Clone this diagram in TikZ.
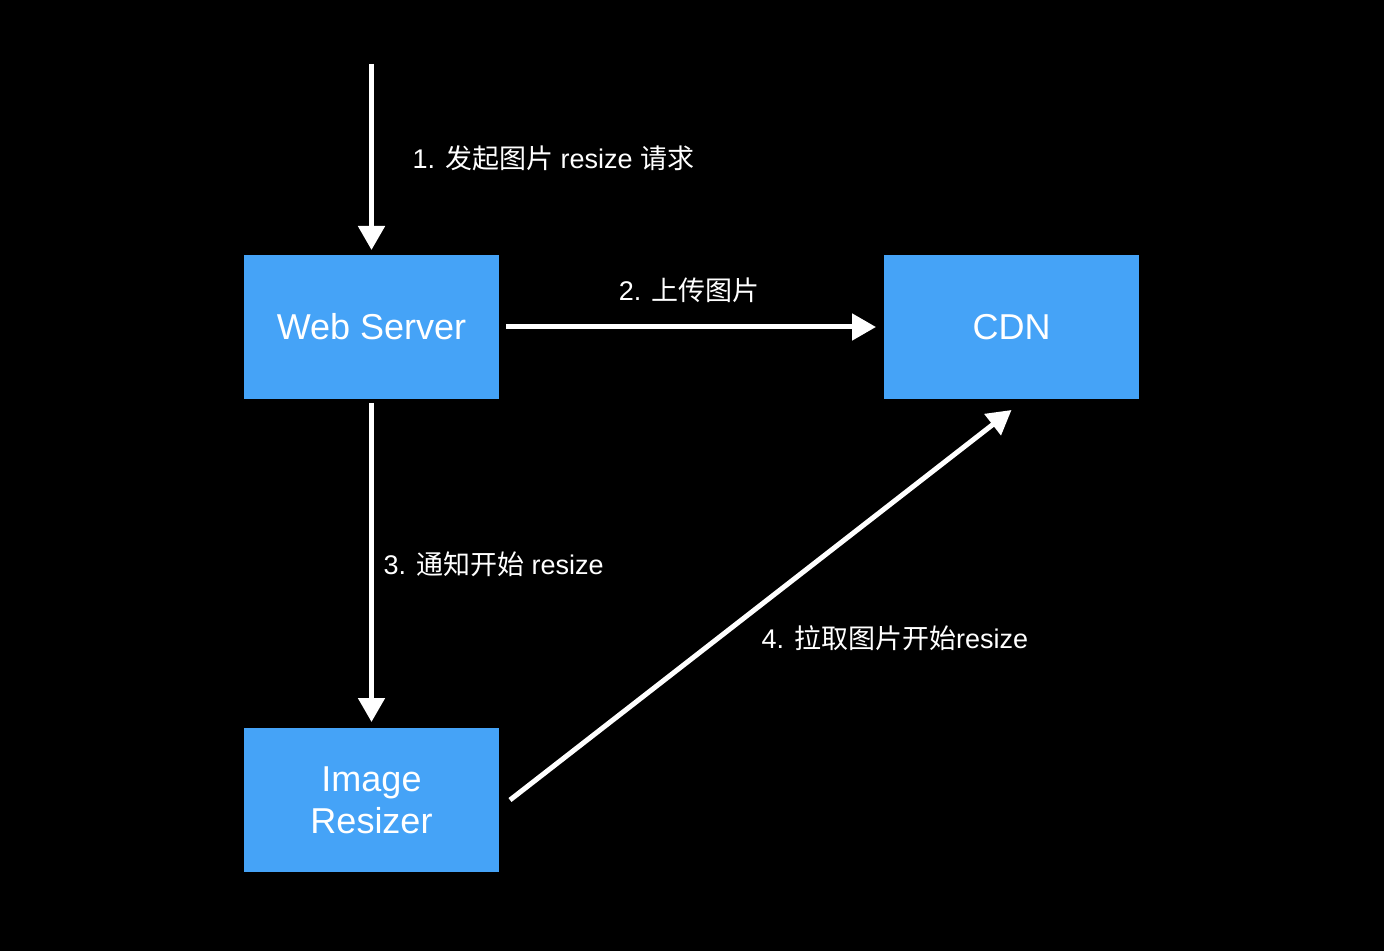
\documentclass[tikz,border=0pt]{standalone}
\usepackage{fontspec}
\setmainfont{Liberation Sans}
\newfontfamily\cjk{Noto Sans CJK SC}
\usetikzlibrary{arrows.meta, positioning}
\definecolor{boxblue}{HTML}{45A3F7}

\begin{document}
\begin{tikzpicture}[
            x = 0.5pt, y = -0.5pt, % one unit per pixel of the sketch
            > = {Triangle[length=12pt, width=13pt]}, % arrow head style
            line width = 2.5pt
        ]

        \tikzset{
            server/.style = {
                fill = boxblue,
                text = white,
                outer sep = 0pt,
                minimum width = 127.5pt,
                minimum height = 72pt,
                align = center,
                font = \fontsize{18}{21}\selectfont
            },
            flow/.style = {->, draw = white},
            note/.style = {text = white, inner sep = 0pt, font = \fontsize{13.5}{16}\selectfont}
        }

        \fill[black] (0,0) rectangle (1384,951);
        \useasboundingbox (0,0) rectangle (1384,951);

        \node[server] (ws) at (371.5,327) {Web Server};
        \node[server] (cdn) [right=192.5pt of ws] {CDN};
        \node[server] (ir) [below=164.5pt of ws] {Image\\Resizer};
        \coordinate (client) at (371.5,64);

        \draw[flow, shorten > = 2.5pt] (client) -- (ws.north);
        \draw[flow, shorten < = 3.5pt, shorten > = 4pt] (ws.east) -- (cdn.west);
        \draw[flow, shorten < = 2pt, shorten > = 3pt] (ws.south) -- (ir.north);
        \draw[flow] ([xshift=5.5pt]ir.east) -- ([yshift=-5.5pt]cdn.south);

        \node[note, anchor = west] (n1) at (410,158) {1. {\cjk 发起图片} resize {\cjk 请求}};
        \node[note] (n2) at (689,290) {2. {\cjk 上传图片}};
        \node[note, anchor = west] (n3) at (381,564) {3. {\cjk 通知开始} resize};
        \node[note, anchor = west] (n4) at (759,638) {4. {\cjk 拉取图片开始}resize};
     \end{tikzpicture}
\end{document}
